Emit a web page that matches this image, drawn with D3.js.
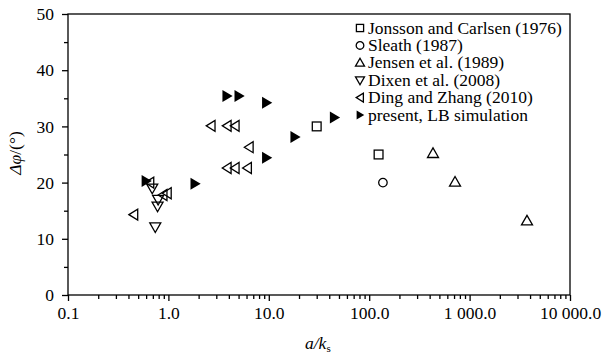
<!DOCTYPE html>
<html><head><meta charset="utf-8">
<script src="https://cdn.jsdelivr.net/npm/d3@7"></script>
<style>body{margin:0;background:#fff}svg{display:block}</style>
</head><body><svg id="c" width="604" height="358"></svg>
<script>
const xTicks = [0.1, 1, 10, 100, 1000, 10000];
const xTickLabels = ["0.1", "1.0", "10.0", "100.0", "1 000.0", "10 000.0"];
const yTicks = [0, 10, 20, 30, 40, 50];
const seriesNames = ["Jonsson and Carlsen (1976)", "Sleath (1987)", "Jensen et al. (1989)", "Dixen et al. (2008)", "Ding and Zhang (2010)", "present, LB simulation"];
const jonssonX = [30, 124];
const jonssonY = [30, 25];
const sleathX = [137];
const sleathY = [20];
const jensenX = [432, 716, 3730];
const jensenY = [25.2, 20.1, 13.2];
const dixenX = [0.69, 0.79, 0.78, 0.74];
const dixenY = [19, 17, 15.8, 12.1];
const dingX = [0.65, 0.88, 0.97, 0.45, 2.65, 3.83, 4.6, 6.35, 3.83, 4.6, 6.1];
const dingY = [20, 17.8, 18.1, 14.3, 30.1, 30.1, 30.1, 26.3, 22.6, 22.6, 22.6];
const presentX = [0.6, 1.84, 3.83, 5.05, 9.5, 9.5, 18.2, 45];
const presentY = [20.3, 19.8, 35.4, 35.4, 34.2, 24.4, 28.1, 31.6];

const FONT = "Liberation Serif";
const FS = 17.5;
const L = 68, R = 570, T = 14, B = 295;
const svg = d3.select("#c");
const x = d3.scaleLog().domain([0.1, 10000]).range([L, R]);
const y = d3.scaleLinear().domain([0, 50]).range([B, T]);

// frame
svg.append("rect").attr("x", L).attr("y", T).attr("width", R - L).attr("height", B - T)
  .attr("fill", "none").attr("stroke", "#000").attr("stroke-width", 1.3);

// x axis minor ticks
const xMinor = [];
for (let d = 0.1; d < 10000; d *= 10) for (let k = 2; k <= 9; k++) xMinor.push(d * k);
svg.append("g").attr("transform", `translate(0,${B})`)
  .call(d3.axisBottom(x).tickValues(xMinor).tickSize(4).tickFormat(""))
  .call(g => g.select(".domain").remove())
  .call(g => g.selectAll("line").attr("stroke-width", 1.3));
const xa = svg.append("g").attr("transform", `translate(0,${B})`)
  .call(d3.axisBottom(x).tickValues(xTicks).tickSize(6).tickPadding(6)
    .tickFormat((d, i) => xTickLabels[i]));
xa.attr("font-family", FONT).attr("font-size", FS);
xa.select(".domain").remove();
xa.selectAll("line").attr("stroke-width", 1.3);

// y axis
svg.append("g").attr("transform", `translate(${L},0)`)
  .call(d3.axisLeft(y).tickValues([5, 15, 25, 35, 45]).tickSize(4).tickFormat(""))
  .call(g => g.select(".domain").remove())
  .call(g => g.selectAll("line").attr("stroke-width", 1.3));
const ya = svg.append("g").attr("transform", `translate(${L},0)`)
  .call(d3.axisLeft(y).tickValues(yTicks).tickSize(6).tickPadding(8));
ya.attr("font-family", FONT).attr("font-size", FS);
ya.select(".domain").remove();
ya.selectAll("line").attr("stroke-width", 1.3);

// axis titles
const xt = svg.append("text").attr("x", 305).attr("y", 349).attr("font-family", FONT).attr("font-size", FS).attr("font-style", "italic");
xt.append("tspan").text("a/k");
xt.append("tspan").text("s").attr("font-size", 11).attr("font-style", "normal").attr("dy", 3);
const yt = svg.append("text").attr("transform", "translate(21,153) rotate(-90)").attr("text-anchor", "middle").attr("font-family", FONT).attr("font-size", FS);
yt.append("tspan").text("Δφ").attr("font-style", "italic");
yt.append("tspan").text("/(°)");

// markers
function marker(g, type, s) {
  const h = s / 2;
  if (type === "square") return g.append("rect").attr("x", -h * 0.8).attr("y", -h * 0.8).attr("width", s * 0.8).attr("height", s * 0.8).attr("fill", "none").attr("stroke", "#000").attr("stroke-width", 1.3);
  if (type === "circle") return g.append("circle").attr("r", h * 0.85).attr("fill", "none").attr("stroke", "#000").attr("stroke-width", 1.3);
  let pts;
  if (type === "up") pts = [[0, -h], [h, h * 0.75], [-h, h * 0.75]];
  if (type === "down") pts = [[0, h], [h, -h * 0.75], [-h, -h * 0.75]];
  if (type === "left") pts = [[-h * 0.85, 0], [h * 0.75, -h], [h * 0.75, h]];
  if (type === "right") pts = [[h * 0.95, 0], [-h * 0.75, -h], [-h * 0.75, h]];
  const p = g.append("polygon").attr("points", pts.map(q => q.join(",")).join(" "));
  if (type === "right") p.attr("fill", "#000");
  else p.attr("fill", "none").attr("stroke", "#000").attr("stroke-width", 1.3).attr("stroke-linejoin", "miter");
  return p;
}
const series = [
  {xs: jonssonX, ys: jonssonY, type: "square", s: 11},
  {xs: sleathX, ys: sleathY, type: "circle", s: 10},
  {xs: jensenX, ys: jensenY, type: "up", s: 11},
  {xs: dixenX, ys: dixenY, type: "down", s: 11},
  {xs: dingX, ys: dingY, type: "left", s: 11},
  {xs: presentX, ys: presentY, type: "right", s: 12}
];
series.forEach(sr => {
  sr.xs.forEach((xv, i) => {
    const g = svg.append("g").attr("transform", `translate(${x(xv)},${y(sr.ys[i])})`);
    marker(g, sr.type, sr.s);
  });
});

// legend
series.forEach((sr, i) => {
  const cy = 28 + i * 17.4;
  const g = svg.append("g").attr("transform", `translate(360,${cy})`);
  marker(g, sr.type, 9);
  svg.append("text").attr("x", 368).attr("y", cy + 5.5).attr("font-family", FONT).attr("font-size", FS).text(seriesNames[i]);
});
</script></body></html>
